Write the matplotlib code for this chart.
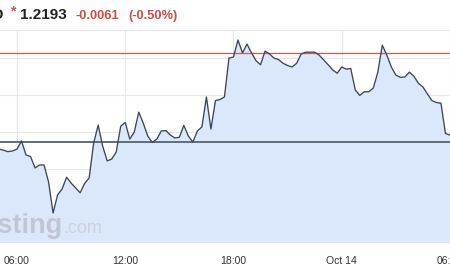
import matplotlib
matplotlib.use("Agg")
import matplotlib.pyplot as plt
import pandas as pd

plt.rcParams["font.family"] = ["Liberation Sans", "DejaVu Sans"]

# 15-minute closes, Oct 13 05:00 -> Oct 14 06:15
precios = [
    1.21754, 1.21751, 1.21747, 1.21749, 1.21754, 1.21776, 1.21738, 1.21734,
    1.21703, 1.21711, 1.21711, 1.21665, 1.21581, 1.21630, 1.21646, 1.21678,
    1.21662, 1.21649, 1.21636, 1.21661, 1.21676, 1.21770, 1.21819, 1.21762,
    1.21722, 1.21727, 1.21746, 1.21816, 1.21826, 1.21781, 1.21800, 1.21854,
    1.21824, 1.21789, 1.21772, 1.21781, 1.21803, 1.21804, 1.21792, 1.21784,
    1.21786, 1.21818, 1.21789, 1.21773, 1.21803, 1.21814, 1.21895, 1.21808,
    1.21885, 1.21888, 1.21895, 1.22000, 1.22003, 1.22049, 1.22014, 1.22038,
    1.22014, 1.21993, 1.21982, 1.22019, 1.22011, 1.22000, 1.21996, 1.21986,
    1.21980, 1.21976, 1.21986, 1.22011, 1.22016, 1.22016, 1.22016, 1.22008,
    1.21995, 1.21982, 1.21968, 1.21959, 1.21976, 1.21970, 1.21972, 1.21914,
    1.21899, 1.21909, 1.21909, 1.21919, 1.21962, 1.22035, 1.22008, 1.21976,
    1.21954, 1.21948, 1.21949, 1.21962, 1.21951, 1.21932, 1.21922, 1.21903,
    1.21885, 1.21880, 1.21878, 1.21796, 1.21792, 1.21792,
]
tiempos = pd.date_range("2020-10-13 05:00", periods=len(precios), freq="15min")

cierre_previo = 1.21772
linea_roja = 1.22014
niveles = [1.2150, 1.2160, 1.2170, 1.2180, 1.2190, 1.2200]
ticks_x = pd.to_datetime(["2020-10-13 06:00", "2020-10-13 12:00",
                          "2020-10-13 18:00", "2020-10-14 00:00",
                          "2020-10-14 06:00"])
etiquetas_x = ["06:00", "12:00", "18:00", "Oct 14", "06:00"]

precio = "1.2193"
cambio = "-0.0061"
cambio_pct = "(-0.50%)"

fig = plt.figure(figsize=(4.5, 2.7), dpi=100)
ax = fig.add_axes([0, 0.1, 1, 0.7889])

y_min, y_max = 1.2150, 1.22076
ax.fill_between(tiempos, precios, y_min, color="#dbe8fb", lw=0, zorder=1)
ax.plot(tiempos, precios, color="#3b4658", lw=0.95, zorder=4)
ax.axhline(cierre_previo, color="#58626e", lw=1.3, zorder=3)
ax.axhline(linea_roja, color="#d2594f", lw=0.9, zorder=3)

ax.set_ylim(y_min, y_max)
ax.set_xlim(pd.Timestamp("2020-10-13 05:03:30"), pd.Timestamp("2020-10-14 06:00:05"))
ax.set_yticks(niveles)
ax.set_yticklabels([])
ax.set_xticks(ticks_x)
ax.set_xticklabels(etiquetas_x, fontsize=7.5, color="#333333")
ax.tick_params(length=0, pad=9)
ax.grid(color="#e4e7ee", lw=0.8, zorder=2)
ax.set_axisbelow(True)
for lado in ["left", "right", "bottom"]:
    ax.spines[lado].set_visible(False)
ax.spines["top"].set_color("#e4e7ee")
ax.spines["top"].set_linewidth(0.8)
ax.set_facecolor("white")

# marca de agua
ax.text(0.138, 0.047, "Investing", transform=ax.transAxes, ha="right",
        va="baseline", fontsize=19.5, fontweight="bold", color="#c1c7d1", zorder=2)
ax.text(0.141, 0.047, ".com", transform=ax.transAxes, ha="left",
        va="baseline", fontsize=13, color="#ccd2dc", zorder=2)

# cabecera
fig.text(4 / 450, 1 - 19 / 270, "EUR/USD", ha="right", va="baseline",
         fontsize=11, fontweight="bold", color="#222222")
fig.text(10 / 450, 1 - 15 / 270, "*", ha="left", va="baseline",
         fontsize=10, fontweight="bold", color="#d9534f")
fig.text(20 / 450, 1 - 19 / 270, precio, ha="left", va="baseline",
         fontsize=11, fontweight="bold", color="#222222")
fig.text(75 / 450, 1 - 19 / 270, cambio, ha="left", va="baseline",
         fontsize=9.3, fontweight="bold", color="#d04b40")
fig.text(128 / 450, 1 - 19 / 270, cambio_pct, ha="left", va="baseline",
         fontsize=9.3, fontweight="bold", color="#d04b40")

fig.savefig("out.png", dpi=100)
